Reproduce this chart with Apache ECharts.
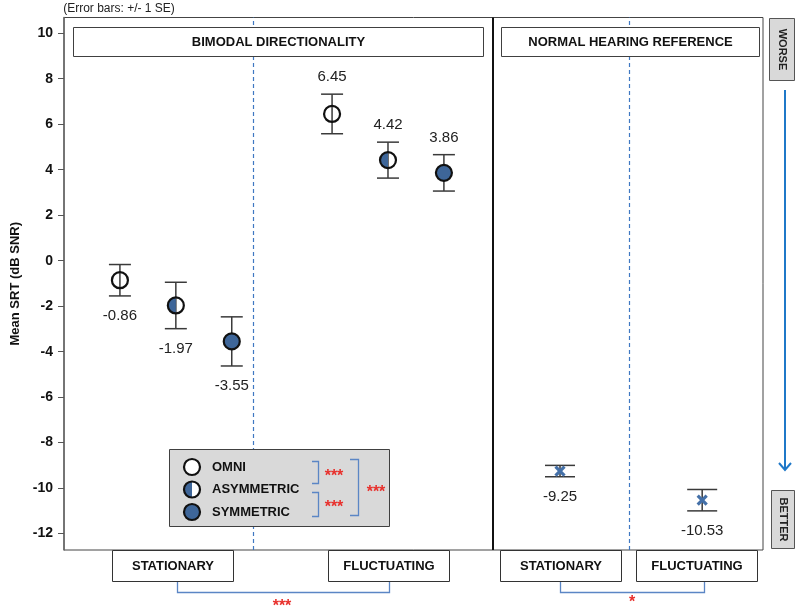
<!DOCTYPE html>
<html>
<head>
<meta charset="utf-8">
<script src="https://cdn.jsdelivr.net/npm/echarts@6/dist/echarts.min.js"></script>
<style>
html,body{margin:0;padding:0;background:#fff;}
#chart{width:800px;height:609px;}
</style>
</head>
<body>
<div id="chart"></div>
<script>
// ---------- DATA ----------
const noiseTypes = ['STATIONARY', 'FLUCTUATING'];
const conditions = ['OMNI', 'ASYMMETRIC', 'SYMMETRIC'];
const omniMean = [-0.86, 6.45];
const omniSE = [0.69, 0.87];
const asymMean = [-1.97, 4.42];
const asymSE = [1.02, 0.79];
const symMean = [-3.55, 3.86];
const symSE = [1.08, 0.80];
const nhMean = [-9.25, -10.53];
const nhSE = [0.25, 0.47];
const yTicks = [-12, -10, -8, -6, -4, -2, 0, 2, 4, 6, 8, 10];

// ---------- LAYOUT ----------
const Y_MIN = -12.72, Y_MAX = 10.69;
const groupCenters = [16.0, 46.35, 70.96, 91.3]; // % of plot width
const condOffset = 8.0;
const dividerSolid = 61.37, dividerDashed = [27.04, 80.83];
const BLUE = '#3e6699';
const LINEBLUE = '#5b86c5';
const DASHBLUE = '#3f78c2';
const RED = '#e8302c';

const means = [omniMean, asymMean, symMean];
const ses = [omniSE, asymSE, symSE];
const pointData = [];
for (let c = 0; c < conditions.length; c++) {
  for (let n = 0; n < noiseTypes.length; n++) {
    pointData.push([groupCenters[n] + (c - 1) * condOffset, means[c][n], ses[c][n], c, n === 0 ? 1 : -1]);
  }
}
for (let n = 0; n < noiseTypes.length; n++) {
  pointData.push([groupCenters[2 + n], nhMean[n], nhSE[n], 3, 1]);
}

function renderItem(params, api) {
  const x = api.value(0), m = api.value(1), se = api.value(2), kind = api.value(3), dir = api.value(4);
  const c = api.coord([x, m]);
  const t = api.coord([x, m + se]);
  const b = api.coord([x, m - se]);
  const cap = kind === 3 ? 15 : 11;
  const barStyle = { stroke: '#3a3a3a', lineWidth: 1.5 };
  const ch = [];
  ch.push({ type: 'line', shape: { x1: c[0], y1: t[1], x2: c[0], y2: b[1] }, style: barStyle });
  ch.push({ type: 'line', shape: { x1: c[0] - cap, y1: t[1], x2: c[0] + cap, y2: t[1] }, style: barStyle });
  ch.push({ type: 'line', shape: { x1: c[0] - cap, y1: b[1], x2: c[0] + cap, y2: b[1] }, style: barStyle });
  const r = 8;
  if (kind === 3) {
    const s = 4.5;
    const xs = { stroke: '#4470a8', lineWidth: 3.2 };
    ch.push({ type: 'line', shape: { x1: c[0] - s, y1: c[1] - s, x2: c[0] + s, y2: c[1] + s }, style: xs });
    ch.push({ type: 'line', shape: { x1: c[0] - s, y1: c[1] + s, x2: c[0] + s, y2: c[1] - s }, style: xs });
  } else {
    if (kind === 2) {
      ch.push({ type: 'circle', shape: { cx: c[0], cy: c[1], r: r }, style: { fill: BLUE } });
    } else if (kind === 1) {
      ch.push({ type: 'sector', shape: { cx: c[0], cy: c[1], r0: 0, r: r, startAngle: Math.PI / 2, endAngle: Math.PI * 3 / 2, clockwise: true }, style: { fill: BLUE } });
    }
    ch.push({ type: 'circle', shape: { cx: c[0], cy: c[1], r: r }, style: { fill: 'none', stroke: '#111', lineWidth: 2.2 } });
  }
  const ly = dir > 0 ? b[1] + 20 : t[1] - 17;
  ch.push({ type: 'text', style: { text: m.toFixed(2), x: c[0], y: ly, align: 'center', verticalAlign: 'middle', font: '15px "Liberation Sans", Arial, sans-serif', fill: '#222' } });
  return { type: 'group', children: ch };
}

function box(x, y, w, h, fill, stroke) {
  return { type: 'rect', shape: { x: x, y: y, width: w, height: h }, style: { fill: fill, stroke: stroke, lineWidth: 1 }, z: 100 };
}
function txt(s, x, y, font, fill, rot) {
  return { type: 'text', x: x, y: y, rotation: rot || 0, style: { text: s, x: 0, y: 0, align: 'center', verticalAlign: 'middle', font: font, fill: fill || '#111' }, z: 101 };
}
const BOLD13 = 'bold 13px "Liberation Sans", Arial, sans-serif';
const STAR = 'bold 16px "Liberation Sans", Arial, sans-serif';
function bracket(pts) {
  return { type: 'polyline', shape: { points: pts }, style: { stroke: LINEBLUE, lineWidth: 1.3, fill: 'none' }, z: 101 };
}

const graphics = [
  txt('(Error bars: +/- 1 SE)', 119, 9, '12px "Liberation Sans", Arial, sans-serif', '#222'),
  box(73.5, 27.5, 410, 29, '#fff', '#404040'),
  txt('BIMODAL DIRECTIONALITY', 278.5, 42, BOLD13),
  box(501.5, 27.5, 258, 29, '#fff', '#404040'),
  txt('NORMAL HEARING REFERENCE', 630.5, 42, BOLD13),
  box(112.5, 550.5, 121, 31, '#fff', '#333'),
  txt(noiseTypes[0], 173, 566, BOLD13),
  box(328.5, 550.5, 121, 31, '#fff', '#333'),
  txt(noiseTypes[1], 389, 566, BOLD13),
  box(500.5, 550.5, 121, 31, '#fff', '#333'),
  txt(noiseTypes[0], 561, 566, BOLD13),
  box(636.5, 550.5, 121, 31, '#fff', '#333'),
  txt(noiseTypes[1], 697, 566, BOLD13),
  bracket([[177.5, 582], [177.5, 592.5], [389.5, 592.5], [389.5, 582]]),
  txt('***', 282, 607, STAR, RED),
  bracket([[560.5, 582], [560.5, 592.5], [704.5, 592.5], [704.5, 582]]),
  txt('*', 632, 603, STAR, RED),
  // legend
  box(169.5, 449.5, 220, 77, '#d9d9d9', '#404040'),
  { type: 'circle', shape: { cx: 192, cy: 467, r: 8 }, style: { fill: '#fff', stroke: '#111', lineWidth: 2.2 }, z: 101 },
  { type: 'sector', shape: { cx: 192, cy: 489.5, r0: 0, r: 8, startAngle: Math.PI / 2, endAngle: Math.PI * 3 / 2, clockwise: true }, style: { fill: BLUE }, z: 101 },
  { type: 'sector', shape: { cx: 192, cy: 489.5, r0: 0, r: 8, startAngle: -Math.PI / 2, endAngle: Math.PI / 2, clockwise: true }, style: { fill: '#fff' }, z: 101 },
  { type: 'circle', shape: { cx: 192, cy: 489.5, r: 8 }, style: { fill: 'none', stroke: '#111', lineWidth: 2.2 }, z: 102 },
  { type: 'circle', shape: { cx: 192, cy: 512, r: 8 }, style: { fill: BLUE, stroke: '#111', lineWidth: 2.2 }, z: 101 },
  { type: 'text', x: 212, y: 467, style: { text: conditions[0], align: 'left', verticalAlign: 'middle', font: BOLD13, fill: '#111' }, z: 102 },
  { type: 'text', x: 212, y: 489.5, style: { text: conditions[1], align: 'left', verticalAlign: 'middle', font: BOLD13, fill: '#111' }, z: 102 },
  { type: 'text', x: 212, y: 512, style: { text: conditions[2], align: 'left', verticalAlign: 'middle', font: BOLD13, fill: '#111' }, z: 102 },
  bracket([[312, 461.5], [318.5, 461.5], [318.5, 483.5], [312, 483.5]]),
  bracket([[312, 492.5], [318.5, 492.5], [318.5, 516.5], [312, 516.5]]),
  bracket([[350, 459.5], [358.5, 459.5], [358.5, 515.5], [350, 515.5]]),
  txt('***', 334, 477, STAR, RED),
  txt('***', 334, 508, STAR, RED),
  txt('***', 376, 493, STAR, RED),
  // worse/better
  box(769.5, 18.5, 25, 62, '#d9d9d9', '#555'),
  txt('WORSE', 782, 49.5, 'bold 11px "Liberation Sans", Arial, sans-serif', '#222', -Math.PI / 2),
  { type: 'line', shape: { x1: 785, y1: 90, x2: 785, y2: 470 }, style: { stroke: '#1f78c8', lineWidth: 2 }, z: 101 },
  { type: 'polyline', shape: { points: [[779, 463], [785, 470], [791, 463]] }, style: { stroke: '#1f78c8', lineWidth: 2, fill: 'none' }, z: 101 },
  box(771.5, 490.5, 23, 58, '#d9d9d9', '#555'),
  txt('BETTER', 783, 519.5, 'bold 11px "Liberation Sans", Arial, sans-serif', '#222', -Math.PI / 2)
];

const chart = echarts.init(document.getElementById('chart'), null, { renderer: 'canvas' });
chart.setOption({
  animation: false,
  backgroundColor: '#fff',
  grid: { left: 64, right: 37, top: 17.5, bottom: 59, show: true, borderColor: '#444', borderWidth: 1, containLabel: false, outerBoundsMode: 'none' },
  xAxis: { type: 'value', min: 0, max: 100, show: false },
  yAxis: {
    type: 'value', min: Y_MIN, max: Y_MAX,
    name: 'Mean SRT (dB SNR)', nameLocation: 'middle', nameGap: 38,
    nameTextStyle: { fontFamily: 'Liberation Sans', fontWeight: 'bold', fontSize: 13, color: '#111' },
    axisLine: { show: true, lineStyle: { color: '#666', width: 1.5 } },
    axisTick: { show: true, length: 6, lineStyle: { color: '#555' }, customValues: yTicks },
    axisLabel: { customValues: yTicks, margin: 11, color: '#111', fontFamily: 'Liberation Sans', fontWeight: 'bold', fontSize: 14 },
    splitLine: { show: false }
  },
  series: [
    {
      type: 'scatter', data: [], silent: true,
      markLine: {
        silent: true, symbol: 'none', label: { show: false },
        lineStyle: { color: DASHBLUE, width: 1.2, type: [4, 3], opacity: 1 },
        data: [
          { xAxis: dividerDashed[0] },
          { xAxis: dividerDashed[1] }
        ]
      }
    },
    {
      type: 'scatter', data: [], silent: true,
      markLine: {
        silent: true, symbol: 'none', label: { show: false },
        lineStyle: { color: '#111', width: 2, type: 'solid', opacity: 1 },
        data: [ { xAxis: dividerSolid } ]
      }
    },
    { type: 'custom', renderItem: renderItem, data: pointData, silent: true, z: 5 }
  ],
  graphic: graphics
});
</script>
</body>
</html>
